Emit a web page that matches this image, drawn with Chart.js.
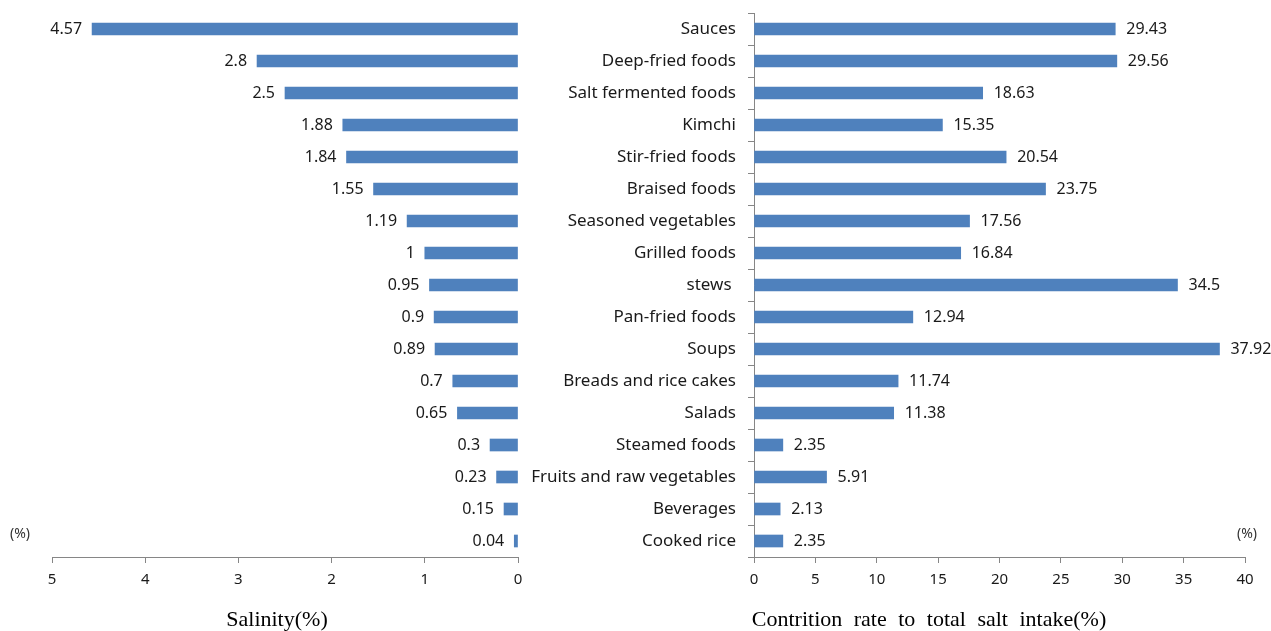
<!DOCTYPE html>
<html>
<head>
<meta charset="utf-8">
<script src="https://cdn.jsdelivr.net/npm/chart.js@4"></script>
<style>
  html, body { margin:0; padding:0; background:#fff; }
  #wrap { position:relative; width:1271px; height:631px; overflow:hidden; }
  #left { position:absolute; left:0; top:0; }
  #right { position:absolute; left:530px; top:0; }
</style>
</head>
<body>
<div id="wrap">
  <canvas id="left" width="540" height="631"></canvas>
  <canvas id="right" width="741" height="631"></canvas>
</div>
<script>
const categories = ["Sauces","Deep-fried foods","Salt fermented foods","Kimchi","Stir-fried foods","Braised foods","Seasoned vegetables","Grilled foods","stews ","Pan-fried foods","Soups","Breads and rice cakes","Salads","Steamed foods","Fruits and raw vegetables","Beverages","Cooked rice"];
const salinity = [4.57,2.8,2.5,1.88,1.84,1.55,1.19,1,0.95,0.9,0.89,0.7,0.65,0.3,0.23,0.15,0.04];
const contribution = [29.43,29.56,18.63,15.35,20.54,23.75,17.56,16.84,34.5,12.94,37.92,11.74,11.38,2.35,5.91,2.13,2.35];
const salinityTicks = {min:0, max:5, step:1};
const contributionTicks = {min:0, max:40, step:5};
const leftTitle = 'Salinity(%)';
const rightTitle = 'Contrition rate to total salt intake(%)';

const BLUE = '#4F81BD';
const AXIS = '#868686';
const TXT = '#1a1a1a';
const SANS = '"Noto Sans", "Open Sans", sans-serif';
const SERIF = '"Liberation Serif", "DejaVu Serif", serif';

function labelPlugin(side, title, titleX) {
  return {
    id: 'vlabels_' + side,
    afterDatasetsDraw(chart) {
      const ctx = chart.ctx;
      const meta = chart.getDatasetMeta(0);
      const data = chart.data.datasets[0].data;
      ctx.save();
      ctx.font = '16px ' + SANS;
      ctx.fillStyle = TXT;
      ctx.textBaseline = 'middle';
      meta.data.forEach((bar, i) => {
        if (side === 'left') {
          ctx.textAlign = 'right';
          ctx.fillText(String(data[i]), bar.x - 10, bar.y);
        } else {
          ctx.textAlign = 'left';
          ctx.fillText(String(data[i]), bar.x + 11, bar.y);
        }
      });
      // unit label
      ctx.font = '14px ' + SANS;
      ctx.fillStyle = '#333';
      ctx.textAlign = side === 'left' ? 'left' : 'right';
      const ux = side === 'left' ? 10 : chart.chartArea.right + 12;
      ctx.fillText('(%)', ux, 534);
      // axis title
      ctx.font = '22px ' + SERIF;
      ctx.fillStyle = '#000';
      ctx.textAlign = 'center';
      if (side === 'right') { try { ctx.wordSpacing = '6px'; } catch (e) {} }
      ctx.fillText(title, titleX, 620);
      ctx.restore();
    }
  };
}

const commonX = (t, reverse) => ({
  type: 'linear',
  min: t.min, max: t.max, reverse: reverse,
  ticks: { stepSize: t.step, color: TXT, font: { size: 15, family: SANS }, padding: 8, maxRotation: 0 },
  grid: { display: true, drawOnChartArea: false, drawTicks: true, tickLength: 6, color: AXIS, tickColor: AXIS },
  border: { display: true, color: AXIS, width: 1 },
  afterFit(s) { s.height = 631 - 557; s.paddingLeft = 0; s.paddingRight = 0; }
});

new Chart(document.getElementById('left'), {
  type: 'bar',
  data: { labels: categories, datasets: [{ data: salinity, backgroundColor: BLUE, barThickness: 12 }] },
  options: {
    indexAxis: 'y', responsive: false, animation: false,
    layout: { padding: { left: 52, right: 22, top: 13, bottom: 0 } },
    plugins: { legend: { display: false }, tooltip: { enabled: false } },
    scales: {
      x: commonX(salinityTicks, true),
      y: { display: false }
    }
  },
  plugins: [labelPlugin('left', leftTitle, 277)]
});

new Chart(document.getElementById('right'), {
  type: 'bar',
  data: { labels: categories, datasets: [{ data: contribution, backgroundColor: BLUE, barThickness: 12 }] },
  options: {
    indexAxis: 'y', responsive: false, animation: false,
    layout: { padding: { left: 0, right: 26, top: 13, bottom: 0 } },
    plugins: { legend: { display: false }, tooltip: { enabled: false } },
    scales: {
      x: commonX(contributionTicks, false),
      y: {
        ticks: { color: TXT, font: { size: 17, family: SANS }, padding: 12, autoSkip: false },
        grid: { display: true, drawOnChartArea: false, drawTicks: true, tickLength: 6, color: AXIS, tickColor: AXIS, offset: true },
        border: { display: true, color: AXIS, width: 1 },
        afterFit(s) { s.width = 224; s.paddingTop = 0; s.paddingBottom = 0; }
      }
    }
  },
  plugins: [labelPlugin('right', rightTitle, 929 - 530)]
});
</script>
</body>
</html>
